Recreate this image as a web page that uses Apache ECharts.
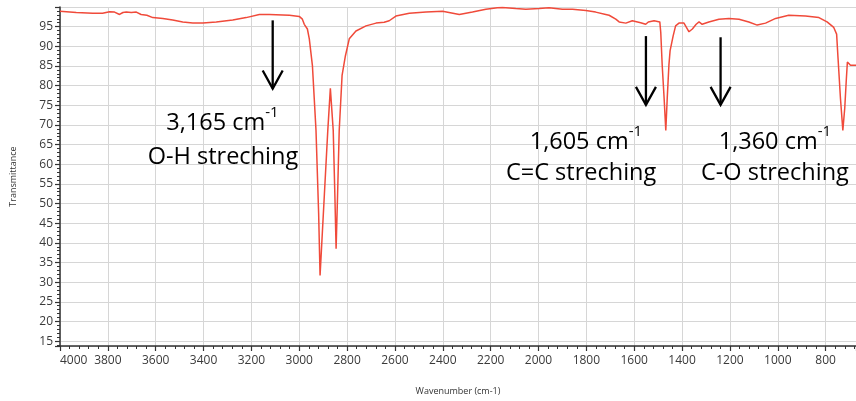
<!DOCTYPE html>
<html>
<head>
<meta charset="utf-8">
<script src="https://cdn.jsdelivr.net/npm/echarts@6/dist/echarts.min.js"></script>
<style>
html,body{margin:0;padding:0;background:#fff;}
#chart{width:856px;height:401px;}
</style>
</head>
<body>
<div id="chart"></div>
<script>
// Wavenumber (cm-1) values of the traced spectrum
const wavenumbers = [
  4000, 3932, 3863, 3822, 3793, 3772, 3751, 3737, 3723, 3702, 3681, 3661, 3637, 3612, 3570, 3529, 3487, 3445, 3403, 3347, 3278, 3222, 3167,
  3125, 3041, 3000, 2987, 2979, 2966, 2958, 2945, 2930, 2919, 2913, 2895, 2881, 2870, 2862, 2858, 2851, 2846, 2840, 2833, 2821, 2807, 2791,
  2763, 2721, 2679, 2645, 2624, 2596, 2540, 2470, 2401, 2331, 2324, 2276, 2220, 2172, 2151, 2095, 2053, 1997, 1956, 1900, 1858, 1802,
  1761, 1719, 1705, 1677, 1663, 1635, 1608, 1573, 1552, 1541, 1517, 1493, 1489, 1483, 1475, 1468, 1462, 1455, 1450, 1443, 1437, 1427,
  1413, 1392, 1385, 1371, 1357, 1341, 1329, 1316, 1288, 1246, 1204, 1162, 1121, 1086, 1051, 1009, 954, 884, 828, 794, 766, 754, 748,
  738, 728, 720, 714, 709, 703, 696, 673
];
// Transmittance values (same order)
const transmittance = [
  98.9, 98.6, 98.4, 98.4, 98.8, 98.7, 98.1, 98.6, 98.7, 98.6, 98.7, 98.1, 97.9, 97.3, 97.1, 96.7, 96.2, 95.9, 95.9, 96.2, 96.7, 97.3, 98.1,
  98.1, 97.9, 97.6, 96.9, 95.6, 94.4, 91.9, 85.1, 68.6, 47.5, 31.7, 52.3, 68.3, 79.3, 78.8, 68.6, 51.8, 38.5, 51.8, 68.6, 82.6, 87.6, 91.9,
  93.9, 95.2, 95.9, 96.1, 96.5, 97.7, 98.4, 98.7, 98.9, 98.1, 98.1, 98.7, 99.4, 99.8, 99.9, 99.6, 99.4, 99.6, 99.8, 99.4, 99.4, 99.1,
  98.7, 98.1, 97.9, 96.9, 96.2, 95.9, 96.5, 96.0, 95.6, 96.2, 96.5, 96.2, 93.5, 85.2, 76.8, 68.6, 76.8, 85.2, 88.9, 89.4, 92.7, 95.2,
  95.9, 95.9, 95.4, 93.7, 94.4, 95.6, 96.2, 95.6, 96.2, 96.9, 97.1, 96.9, 96.2, 95.4, 95.9, 97.1, 97.9, 97.7, 97.3, 96.2, 94.8, 93.1, 86.9,
  76.8, 68.6, 74.3, 81.0, 86.0, 85.6, 85.2, 85.2
];
// Annotation texts and their anchors (data units)
const arrowWavenumbers = [3111, 1551, 1239];
const arrowTops = [96.6, 92.6, 92.3];
const arrowTips = [79.25, 75.1, 75.1];
const labelPeaks = ['3,165 cm', '1,605 cm', '1,360 cm'];
const labelBonds = ['O-H streching', 'C=C streching', 'C-O streching'];
const labelPeakPos = [[3321, 70.3], [1802, 65.6], [1012, 65.6]];
const labelBondPos = [[3319, 61.8], [1822, 57.7], [1012, 57.7]];

const seriesData = wavenumbers.map((w, i) => [w, transmittance[i]]);

const chart = echarts.init(document.getElementById('chart'), null, {renderer: 'canvas'});
const labelFont = 'Open Sans';
chart.setOption({
  animation: false,
  backgroundColor: '#ffffff',
  grid: {left: 60, right: 0, top: 7, bottom: 49, containLabel: false},
  xAxis: {
    type: 'value', inverse: true, min: 673, max: 4000, splitNumber: 17,
    name: 'Wavenumber (cm-1)', nameLocation: 'middle', nameGap: 41,
    nameTextStyle: {fontSize: 9, color: '#333', fontFamily: labelFont},
    axisLine: {show: true, onZero: false, lineStyle: {color: '#333', width: 1.5}},
    axisTick: {show: true, length: 5, lineStyle: {color: '#333', width: 1.2}},
    minorTick: {show: true, splitNumber: 5, length: 3, lineStyle: {color: '#333', width: 1}},
    axisLabel: {fontSize: 12, color: '#3a3a3a', fontFamily: labelFont, margin: 9, showMinLabel: false, alignMaxLabel: 'left',
      formatter: v => String(Math.round(v))},
    splitLine: {show: true, lineStyle: {color: '#d6d6d6', width: 1}}
  },
  yAxis: {
    type: 'value', min: 13.75, max: 100, splitNumber: 17,
    name: 'Transmittance', nameLocation: 'middle', nameGap: 42,
    nameTextStyle: {fontSize: 9, color: '#333', fontFamily: labelFont},
    axisLine: {show: true, onZero: false, lineStyle: {color: '#333', width: 1.5}},
    axisTick: {show: true, length: 5, lineStyle: {color: '#333', width: 1.2}},
    minorTick: {show: true, splitNumber: 5, length: 3, lineStyle: {color: '#333', width: 1}},
    axisLabel: {fontSize: 12, color: '#3a3a3a', fontFamily: labelFont, margin: 7, showMinLabel: false, showMaxLabel: false},
    splitLine: {show: true, lineStyle: {color: '#d6d6d6', width: 1}}
  },
  series: [{
    type: 'line', data: seriesData, showSymbol: false, symbol: 'none',
    lineStyle: {color: '#f04a3a', width: 1.5}, smooth: false
  }]
});

const graphics = [];
arrowWavenumbers.forEach((w, i) => {
  const top = chart.convertToPixel({gridIndex: 0}, [w, arrowTops[i]]);
  const tip = chart.convertToPixel({gridIndex: 0}, [w, arrowTips[i]]);
  graphics.push({type: 'polyline', shape: {points: [top, tip]}, style: {stroke: '#000', lineWidth: 2.3, fill: null}, z: 10});
  graphics.push({type: 'polyline', shape: {points: [[tip[0] - 10, tip[1] - 18], tip, [tip[0] + 10, tip[1] - 18]]},
    style: {stroke: '#000', lineWidth: 2.3, fill: null}, z: 10});
});
labelPeaks.forEach((t, i) => {
  const p = chart.convertToPixel({gridIndex: 0}, labelPeakPos[i]);
  graphics.push({type: 'text', x: p[0], y: p[1], z: 10, style: {
    text: '{m|' + t + '}{s|-1}', align: 'center', verticalAlign: 'middle',
    rich: {
      m: {fontSize: 23.5, fontFamily: labelFont, fill: '#000', lineHeight: 36, verticalAlign: 'middle'},
      s: {fontSize: 15, fontFamily: labelFont, fill: '#000', lineHeight: 15, verticalAlign: 'top'}
    }
  }});
});
labelBonds.forEach((t, i) => {
  const p = chart.convertToPixel({gridIndex: 0}, labelBondPos[i]);
  graphics.push({type: 'text', x: p[0], y: p[1], z: 10, style: {
    text: t, align: 'center', verticalAlign: 'middle', fontSize: 23.5, fontFamily: labelFont, fill: '#000'
  }});
});
chart.setOption({graphic: graphics});
</script>
</body>
</html>
